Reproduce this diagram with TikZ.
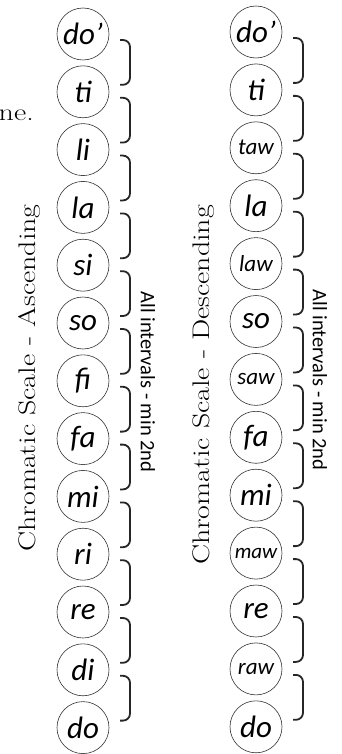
\documentclass[tikz,border=0pt]{standalone}
\usepackage{fontspec}
\setsansfont{Carlito}
\tikzset{
  syll/.style={circle, draw=black!80, line width=0.6pt, minimum size=52pt, inner sep=0pt},
  bracket/.style={line width=1.8pt, rounded corners=7pt, black!85},
  widetext/.style={font=\fontsize{24}{24}\selectfont, xscale=1.25, inner sep=0pt},
  scalelabel/.style={rotate=90, widetext},
  intlabel/.style={font=\sffamily\fontsize{20.5}{20.5}\selectfont, rotate=-90, inner sep=0pt},
}
\begin{document}
\begin{tikzpicture}[x=1pt,y=-1pt]
  \useasboundingbox (0,0) rectangle (341,754);
  % ascending scale, top to bottom
  \foreach \n/\s [count=\i] in {do’/31,ti/31,li/31,la/31,si/31,so/31,fi/31,fa/31,mi/31,ri/31,re/31,di/31,do/31}
    \node[syll, font=\sffamily\itshape\fontsize{\s}{\s}\selectfont] (a\i) at (83,{34+(\i-1)*57.8}) {\n};
  % descending scale, top to bottom
  \foreach \n/\s [count=\i] in {do’/31,ti/31,taw/23,la/31,law/23,so/31,saw/23,fa/31,mi/31,maw/21,re/31,raw/23,do/31}
    \node[syll, font=\sffamily\itshape\fontsize{\s}{\s}\selectfont] (d\i) at (256,{32+(\i-1)*57.9}) {\n};
  % brackets between neighbours (min 2nd)
  \foreach \i [count=\j from 2] in {1,...,12} {
    \draw[bracket] ([xshift=37pt,yshift=-6pt]a\i.center) -- ++(10,0) |- ([xshift=37pt,yshift=7pt]a\j.center);
    \draw[bracket] ([xshift=37pt,yshift=-6pt]d\i.center) -- ++(10,0) |- ([xshift=37pt,yshift=7pt]d\j.center);
  }
  % labels
  \node[widetext, anchor=base east] (tail) at (34,121) {ne.};
  \node[scalelabel] (asc) at (29,378) {Chromatic Scale - Ascending};
  \node[intlabel] (ascint) at (148,382) {All intervals - min 2nd};
  \node[scalelabel] (desc) at (204,385) {Chromatic Scale - Descending};
  \node[intlabel] (descint) at (320,380) {All intervals - min 2nd};
\end{tikzpicture}
\end{document}
